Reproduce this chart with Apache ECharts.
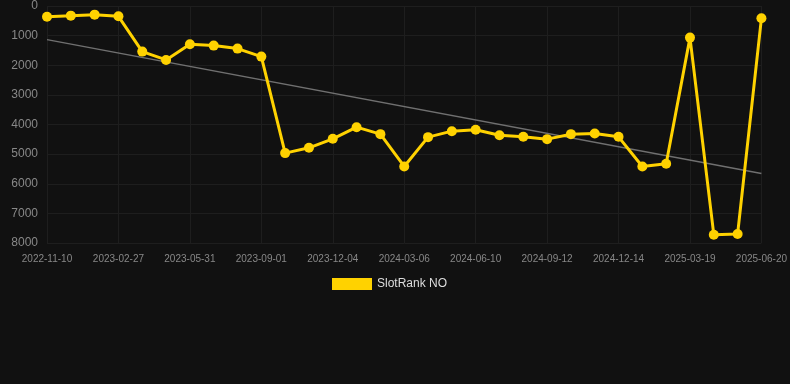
<!DOCTYPE html>
<html>
<head>
<meta charset="utf-8">
<script src="https://cdn.jsdelivr.net/npm/echarts@6/dist/echarts.min.js"></script>
<style>
html,body{margin:0;padding:0;background:#111111;}
#chart{width:790px;height:384px;}
</style>
</head>
<body>
<div id="chart"></div>
<script>
const categories = [
  '2022-11-10','2022-12-15','2023-01-20','2023-02-27','2023-03-30','2023-04-30',
  '2023-05-31','2023-07-01','2023-08-01','2023-09-01','2023-10-02','2023-11-02',
  '2023-12-04','2024-01-04','2024-02-04','2024-03-06','2024-04-06','2024-05-08',
  '2024-06-10','2024-07-11','2024-08-11','2024-09-12','2024-10-13','2024-11-13',
  '2024-12-14','2025-01-14','2025-02-15','2025-03-19','2025-04-19','2025-05-20',
  '2025-06-20'
];
const rankValues = [
  360, 326, 292, 348, 1539, 1820,
  1292, 1337, 1438, 1708, 4966, 4787,
  4483, 4090, 4326, 5416, 4427, 4225,
  4180, 4360, 4416, 4494, 4326, 4303,
  4416, 5416, 5326, 1067, 7719, 7697,
  416
];
const trendEnds = [1135, 5652];
const yTicks = { min: 0, max: 8000, interval: 1000 };
const seriesName = 'SlotRank NO';

const trendData = categories.map((c, i) => i === 0 ? trendEnds[0] : (i === categories.length - 1 ? trendEnds[1] : null));

const chart = echarts.init(document.getElementById('chart'), null, {renderer: 'canvas'});
chart.setOption({
  backgroundColor: '#111111',
  animation: false,
  grid: { left: 47, right: 28, top: 6, bottom: 141, containLabel: false },
  legend: {
    data: [{ name: seriesName, icon: 'rect' }],
    top: 273,
    left: 327,
    itemWidth: 40,
    itemHeight: 12,
    itemGap: 10,
    textStyle: { color: '#dddddd', fontSize: 12, fontFamily: 'Liberation Sans, Arial, sans-serif' }
  },
  xAxis: {
    type: 'category',
    data: categories,
    boundaryGap: false,
    axisLine: { show: false },
    axisTick: { show: false },
    axisLabel: { color: '#888888', fontSize: 10, interval: 2, margin: 11, fontFamily: 'Liberation Sans, Arial, sans-serif' },
    splitLine: { show: true, interval: 2, lineStyle: { color: '#1e1e1e', width: 1 } }
  },
  yAxis: {
    type: 'value',
    inverse: true,
    min: yTicks.min,
    max: yTicks.max,
    interval: yTicks.interval,
    axisLine: { show: false },
    axisTick: { show: false },
    axisLabel: { color: '#888888', fontSize: 12, margin: 9, formatter: v => String(v), fontFamily: 'Liberation Sans, Arial, sans-serif' },
    splitLine: { show: true, lineStyle: { color: '#1e1e1e', width: 1 } }
  },
  series: [
    {
      name: 'trend',
      type: 'line',
      data: trendData,
      connectNulls: true,
      showSymbol: false,
      symbol: 'none',
      lineStyle: { color: '#707070', width: 1.5 },
      silent: true,
      z: 1
    },
    {
      name: seriesName,
      type: 'line',
      data: rankValues,
      symbol: 'circle',
      symbolSize: 10,
      itemStyle: { color: '#ffd200' },
      lineStyle: { color: '#ffd200', width: 3 },
      z: 2
    }
  ]
});
</script>
</body>
</html>
